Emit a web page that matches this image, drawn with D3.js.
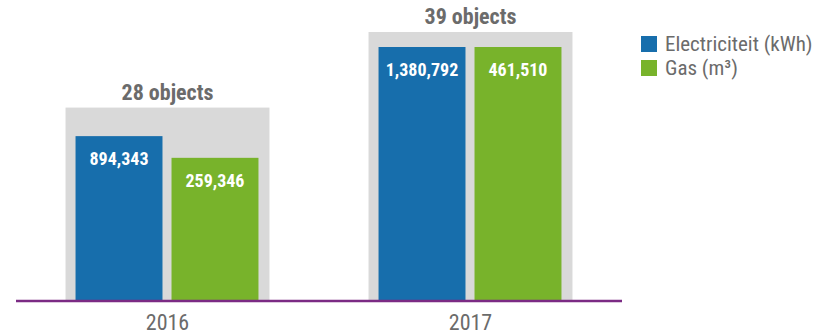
<!DOCTYPE html>
<html>
<head>
<meta charset="utf-8">
<script src="https://cdn.jsdelivr.net/npm/d3@7"></script>
<style>
  body { margin: 0; background: #fff; }
  svg { display: block; font-family: "Roboto Condensed", "Roboto", sans-serif; }
</style>
</head>
<body>
<svg id="chart" width="832" height="335"></svg>
<script>
// Data
const years = ["2016", "2017"];
const objects = [28, 39];
const electricity = [894343, 1380792];
const gas = [259346, 461510];
const seriesNames = ["Electriciteit (kWh)", "Gas (m³)"];
const seriesColors = ["#176eac", "#78b32b"];

const svg = d3.select("#chart");
const baseline = 300;

// Outer band: one gray block per year
const x0 = d3.scaleBand()
  .domain(years)
  .range([16, 622])
  .paddingInner(0.327)
  .paddingOuter(0.1635);

// Inner band: the two bars inside a block
const x1 = d3.scaleBand()
  .domain(["elec", "gas"])
  .range([10, x0.bandwidth() - 11])
  .paddingInner(0.094);

// Each series has its own scale (tallest bar reaches the same height)
const yObjects = d3.scaleLinear().domain([0, d3.max(objects)]).range([baseline, 32]);
const yElec = d3.scaleLinear().domain([0, d3.max(electricity)]).range([baseline, 47]);
const yGas = d3.scaleLinear().domain([0, d3.max(gas)]).range([baseline, 47]);

const fmt = d3.format(",");

const rows = years.map((y, i) => ({
  year: y,
  objects: objects[i],
  bars: [
    { key: "elec", value: electricity[i], scale: yElec, color: seriesColors[0] },
    { key: "gas", value: gas[i], scale: yGas, color: seriesColors[1] }
  ]
}));

const groups = svg.selectAll("g.year")
  .data(rows)
  .enter().append("g")
  .attr("class", "year")
  .attr("transform", d => `translate(${x0(d.year)},0)`);

// Gray background block
groups.append("rect")
  .attr("x", 0)
  .attr("y", d => yObjects(d.objects))
  .attr("width", x0.bandwidth())
  .attr("height", d => baseline - yObjects(d.objects))
  .attr("fill", "#d9d9d9");

// Objects label
groups.append("text")
  .attr("x", x0.bandwidth() / 2)
  .attr("y", d => yObjects(d.objects) - 8)
  .attr("text-anchor", "middle")
  .attr("font-size", 22)
  .attr("font-weight", "bold")
  .attr("fill", "#6b6b6b")
  .text(d => `${d.objects} objects`);

// Bars
const bars = groups.selectAll("g.bar")
  .data(d => d.bars)
  .enter().append("g")
  .attr("class", "bar");

bars.append("rect")
  .attr("x", d => x1(d.key))
  .attr("y", d => d.scale(d.value))
  .attr("width", x1.bandwidth())
  .attr("height", d => baseline - d.scale(d.value))
  .attr("fill", d => d.color);

bars.append("text")
  .attr("x", d => x1(d.key) + x1.bandwidth() / 2)
  .attr("y", d => d.scale(d.value) + 29)
  .attr("text-anchor", "middle")
  .attr("font-size", 18)
  .attr("font-weight", "bold")
  .attr("fill", "#fff")
  .text(d => fmt(d.value));

// Baseline axis
svg.append("line")
  .attr("x1", 16).attr("x2", 622)
  .attr("y1", baseline + 1).attr("y2", baseline + 1)
  .attr("stroke", "#7b2b84")
  .attr("stroke-width", 2.5);

// Year labels
svg.selectAll("text.yearLabel")
  .data(years)
  .enter().append("text")
  .attr("class", "yearLabel")
  .attr("x", d => x0(d) + x0.bandwidth() / 2)
  .attr("y", 330)
  .attr("text-anchor", "middle")
  .attr("font-size", 22)
  .attr("fill", "#6b6b6b")
  .text(d => d);

// Legend
const legend = svg.selectAll("g.legend")
  .data(seriesNames)
  .enter().append("g")
  .attr("class", "legend")
  .attr("transform", (d, i) => `translate(641,${36 + i * 24})`);

legend.append("rect")
  .attr("width", 16)
  .attr("height", 16)
  .attr("fill", (d, i) => seriesColors[i]);

legend.append("text")
  .attr("x", 24)
  .attr("y", 15)
  .attr("font-size", 21)
  .attr("fill", "#6b6b6b")
  .text(d => d);
</script>
</body>
</html>
